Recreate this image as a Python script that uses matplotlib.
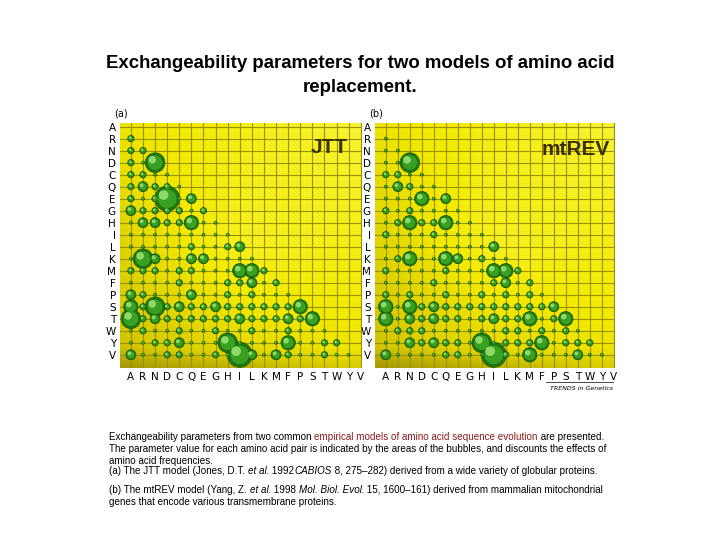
import numpy as np
import matplotlib
matplotlib.use("Agg")
import matplotlib.pyplot as plt
from matplotlib.colors import LinearSegmentedColormap

aa = list("ARNDCQEGHILKMFPSTWYV")

# lower-triangle bubble sizes (0 = tiny ... 5 = huge), rows R..V, columns A..(row-1)
jtt_rows = [
    [1],
    [1, 1],
    [1, 0, 4],
    [1, 1, 0, 0],
    [1, 2, 1, 1, 0],
    [1, 0, 1, 5, 0, 2],
    [2, 1, 1, 1, 1, 0, 1],
    [0, 2, 2, 1, 1, 3, 0, 0],
    [0, 0, 0, 0, 0, 0, 0, 0, 0],
    [0, 0, 0, 0, 0, 1, 0, 0, 1, 2],
    [0, 4, 2, 0, 0, 2, 2, 0, 0, 0, 0],
    [1, 1, 1, 0, 1, 1, 0, 0, 0, 3, 3, 1],
    [0, 0, 0, 0, 1, 0, 0, 0, 1, 1, 2, 0, 1],
    [2, 1, 0, 0, 0, 2, 0, 0, 1, 0, 1, 0, 0, 0],
    [3, 1, 4, 1, 2, 1, 1, 2, 1, 1, 1, 1, 1, 1, 3],
    [4, 1, 2, 1, 1, 1, 1, 1, 1, 2, 1, 1, 1, 2, 1, 3],
    [0, 1, 0, 0, 1, 0, 0, 1, 0, 0, 1, 0, 0, 1, 0, 0, 0],
    [0, 0, 1, 1, 2, 0, 0, 0, 4, 0, 0, 0, 0, 3, 0, 0, 1, 1],
    [2, 0, 0, 1, 1, 0, 0, 1, 0, 5, 2, 0, 2, 1, 0, 0, 1, 0, 0],
]
mtrev_rows = [
    [0],
    [0, 0],
    [0, 0, 4],
    [1, 1, 0, 0],
    [0, 2, 1, 0, 0],
    [0, 0, 0, 3, 0, 2],
    [1, 0, 1, 0, 0, 0, 0],
    [0, 1, 3, 1, 1, 3, 0, 0],
    [1, 0, 0, 0, 1, 0, 0, 0, 0],
    [0, 0, 0, 0, 0, 0, 0, 0, 0, 2],
    [0, 1, 3, 0, 0, 3, 2, 0, 1, 0, 0],
    [1, 0, 0, 0, 0, 1, 0, 0, 0, 3, 3, 1],
    [0, 0, 0, 0, 1, 0, 0, 0, 0, 1, 2, 0, 1],
    [1, 0, 1, 0, 0, 1, 0, 0, 1, 0, 1, 0, 1, 0],
    [3, 0, 3, 1, 2, 1, 1, 1, 1, 1, 1, 1, 1, 1, 2],
    [3, 0, 2, 1, 2, 1, 1, 0, 1, 2, 1, 1, 3, 0, 1, 3],
    [0, 1, 1, 1, 0, 0, 0, 0, 0, 0, 1, 1, 0, 1, 0, 1, 0],
    [0, 0, 2, 1, 2, 1, 1, 0, 4, 0, 1, 1, 1, 3, 0, 1, 1, 1],
    [2, 0, 0, 0, 0, 1, 1, 0, 0, 5, 1, 0, 3, 0, 0, 0, 2, 0, 0],
]

radius_px = {0: 1.5, 1: 3.2, 2: 5.0, 3: 7.2, 4: 9.8, 5: 12.5}

fig = plt.figure(figsize=(7.2, 5.4), dpi=100)
W, H = 720, 540

fig.text(0.5, 1 - 64 / H, "Exchangeability parameters for two models of amino acid",
         ha="center", va="center", fontsize=13.4, fontweight="bold", family="Liberation Sans")
fig.text(0.5, 1 - 87 / H, "replacement.", ha="center", va="center", fontsize=13.4,
         fontweight="bold", family="Liberation Sans")

cmap = LinearSegmentedColormap.from_list("yl", ["#a89a08", "#d8cc00", "#f2ea00", "#faf53a"])

def panel(left, right, top, bottom, rows, name, tag, name_xy):
    ax = fig.add_axes([left / W, 1 - bottom / H, (right - left) / W, (bottom - top) / H])
    x0, x1 = -0.9, 19.1
    y0, y1 = 20.1, -0.3
    yy, xx = np.mgrid[0:100, 0:100]
    u = xx / 99.0
    v = yy / 99.0
    g = 0.6 + 0.45 * (u - v) * 0.8 + 0.25 * (1 - np.abs(u - 0.5) * 2) * (1 - np.abs(v - 0.5) * 2)
    g = g - 0.25 * (v > 0.92) * (v - 0.92) / 0.08
    ax.imshow(np.clip(g, 0, 1), cmap=cmap, extent=[x0, x1, y0, y1], aspect="auto",
              vmin=0, vmax=1, zorder=0, interpolation="bilinear")
    for k in range(20):
        ax.axvline(k, color="#9a9000", lw=0.8, zorder=1)
        ax.axhline(k, color="#9a9000", lw=0.8, zorder=1)
    xs, ys, ss = [], [], []
    for i, row in enumerate(rows):
        for j, val in enumerate(row):
            xs.append(j)
            ys.append(i + 1)
            ss.append(val)
    xs = np.array(xs); ys = np.array(ys)
    r = np.array([radius_px[s] for s in ss])
    size = (2 * r * 0.72) ** 2
    ax.scatter(xs, ys, s=size, color="#1e7a10", edgecolors="#145208", linewidths=0.5, zorder=3)
    ax.scatter(xs, ys, s=size * 0.55, color="#3aa022", linewidths=0, zorder=4)
    ax.scatter(xs - 0.12 * r / 5, ys - 0.12 * r / 5, s=size * 0.15, color="#8fd86a",
               linewidths=0, zorder=5)
    ax.set_xlim(x0, x1)
    ax.set_ylim(y0, y1)
    ax.set_xticks(range(20))
    ax.set_xticklabels(aa)
    ax.set_yticks(range(20))
    ax.set_yticklabels(aa)
    ax.tick_params(length=0, labelsize=7.5, pad=3)
    for sp in ax.spines.values():
        sp.set_visible(False)
    ax.text(name_xy[0], name_xy[1], name, fontsize=15, fontweight="bold", color="#3a3000",
            ha="right", va="center", zorder=6, family="Liberation Sans")
    fig.text((left - 6) / W, 1 - 113 / H, tag, fontsize=7, ha="left", va="center")
    return ax

panel(120, 362, 123, 368, jtt_rows, "JTT", "(a)", (17.9, 1.7))
panel(375, 615, 123, 368, mtrev_rows, "mtREV", "(b)", (18.7, 1.9))

fig.text(613 / W, 1 - 388 / H, "TRENDS in Genetics", fontsize=4.5, style="italic",
         ha="right", va="center")
fig.add_artist(plt.Line2D([546 / W, 613 / W], [1 - 382 / H, 1 - 382 / H], color="k", lw=0.5))

renderer = fig.canvas.get_renderer()

def seg_line(x, y, segs, fs=7.1):
    cx = x / W
    for txt, kw in segs:
        t = fig.text(cx, 1 - y / H, txt, fontsize=fs, ha="left", va="center",
                     family="Liberation Sans", **kw)
        bb = t.get_window_extent(renderer)
        cx = bb.x1 / (W)

seg_line(109, 437, [("Exchangeability parameters from two common ", {}),
                    ("empirical models of amino acid sequence evolution", {"color": "#8b1a1a"}),
                    (" are presented.", {})])
seg_line(109, 449, [("The parameter value for each amino acid pair is indicated by the areas of the bubbles, and discounts the effects of", {})])
seg_line(109, 461, [("amino acid frequencies.", {})])
seg_line(109, 471, [("(a) The JTT model (Jones, D.T. ", {}), ("et al.", {"style": "italic"}),
                    (" 1992", {}), ("CABIOS", {"style": "italic"}),
                    (" 8, 275\u2013282) derived from a wide variety of globular proteins.", {})])
seg_line(109, 490, [("(b) The mtREV model (Yang, Z. ", {}), ("et al.", {"style": "italic"}),
                    (" 1998 ", {}), ("Mol. Biol. Evol.", {"style": "italic"}),
                    (" 15, 1600\u2013161) derived from mammalian mitochondrial", {})])
seg_line(109, 502, [("genes that encode various transmembrane proteins.", {})])

fig.savefig("out.png", dpi=100)
